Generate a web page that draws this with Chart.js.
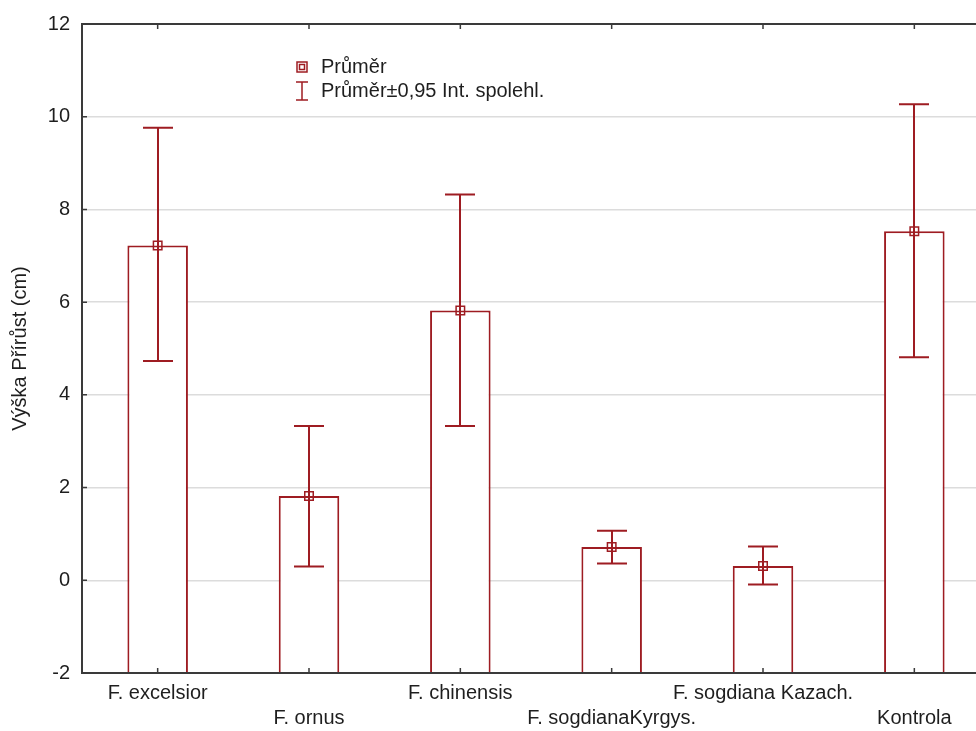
<!DOCTYPE html>
<html>
<head>
<meta charset="utf-8">
<script src="https://cdn.jsdelivr.net/npm/chart.js@4/dist/chart.umd.min.js"></script>
<style>
  html, body { margin: 0; padding: 0; overflow: hidden; background: #fff; }
  #wrap { width: 1000px; height: 731px; }
</style>
</head>
<body>
<div id="wrap"><canvas id="myChart" width="1000" height="731"></canvas></div>
<script>
// species / treatments, staggered over two label rows
const categories = ['F. excelsior', 'F. ornus', 'F. chinensis', 'F. sogdianaKyrgys.', 'F. sogdiana Kazach.', 'Kontrola'];
const labelRow = [0, 1, 0, 1, 0, 1];

// mean height increment and 0.95 confidence limits (cm)
const means = [7.22, 1.82, 5.82, 0.72, 0.31, 7.53];
const upperCI = [9.76, 3.33, 8.32, 1.07, 0.73, 10.27];
const lowerCI = [4.73, 0.30, 3.33, 0.36, -0.09, 4.81];

const yTicks = [-2, 0, 2, 4, 6, 8, 10, 12];

const RED = '#9e1c22';
const AXIS = '#3a3a3a';
const TEXT = '#1e1e1e';
const FONT = "'Liberation Sans', Arial, sans-serif";

// category labels as two-line arrays so every other one drops a row
const labels = categories.map((c, i) => labelRow[i] === 0 ? [c, ''] : ['', c]);

// whiskers drawn right after the bars, under the mean markers
const errorBars = {
  id: 'errorBars',
  afterDatasetDraw(chart, args) {
    if (args.index !== 0) return;
    const ctx = chart.ctx;
    const x = chart.scales.x, y = chart.scales.y;
    ctx.save();
    ctx.strokeStyle = RED;
    ctx.lineWidth = 2;
    for (let i = 0; i < categories.length; i++) {
      const px = Math.round(x.getPixelForValue(i));
      const hi = y.getPixelForValue(upperCI[i]);
      const lo = y.getPixelForValue(lowerCI[i]);
      ctx.beginPath();
      ctx.moveTo(px, hi); ctx.lineTo(px, lo);
      ctx.moveTo(px - 15, hi); ctx.lineTo(px + 15, hi);
      ctx.moveTo(px - 15, lo); ctx.lineTo(px + 15, lo);
      ctx.stroke();
    }
    ctx.restore();
  }
};

// frame with inward tick marks plus the small legend box
const frameAndLegend = {
  id: 'frameAndLegend',
  afterDraw(chart) {
    const ctx = chart.ctx;
    const a = chart.chartArea;
    const x = chart.scales.x, y = chart.scales.y;
    ctx.save();
    ctx.strokeStyle = AXIS;
    ctx.lineWidth = 2;
    ctx.strokeRect(a.left, a.top, a.right - a.left, a.bottom - a.top);
    ctx.lineWidth = 1.5;
    ctx.beginPath();
    yTicks.forEach(v => {
      const py = y.getPixelForValue(v);
      ctx.moveTo(a.left, py); ctx.lineTo(a.left + 5, py);
    });
    for (let i = 0; i < categories.length; i++) {
      const px = x.getPixelForValue(i);
      ctx.moveTo(px, a.bottom); ctx.lineTo(px, a.bottom - 5);
      ctx.moveTo(px, a.top); ctx.lineTo(px, a.top + 5);
    }
    ctx.stroke();

    // legend
    ctx.strokeStyle = RED;
    ctx.lineWidth = 1.5;
    ctx.strokeRect(297, 62, 10, 10);
    ctx.strokeRect(299.5, 64.5, 5, 5);
    ctx.beginPath();
    ctx.moveTo(302, 82); ctx.lineTo(302, 100);
    ctx.moveTo(296, 82); ctx.lineTo(308, 82);
    ctx.moveTo(296, 100); ctx.lineTo(308, 100);
    ctx.stroke();
    ctx.fillStyle = TEXT;
    ctx.font = '20px ' + FONT;
    ctx.textBaseline = 'middle';
    ctx.textAlign = 'left';
    ctx.fillText('Průměr', 321, 67);
    ctx.fillText('Průměr±0,95 Int. spolehl.', 321, 91);
    ctx.restore();
  }
};

const ctx = document.getElementById('myChart').getContext('2d');
const myChart = new Chart(ctx, {
  type: 'bar',
  data: {
    labels: labels,
    datasets: [{
      label: 'Průměr',
      data: means,
      base: -2,
      backgroundColor: '#ffffff',
      borderColor: RED,
      borderWidth: 2,
      borderSkipped: 'bottom',
      categoryPercentage: 1,
      barPercentage: 0.4,
      order: 1
    }, {
      type: 'line',
      label: 'Průměr',
      data: means,
      showLine: false,
      pointStyle: 'rect',
      pointRadius: 6,
      pointBorderWidth: 1.5,
      pointBorderColor: RED,
      pointBackgroundColor: 'rgba(0,0,0,0)',
      order: 0
    }]
  },
  options: {
    responsive: false,
    animation: false,
    layout: { padding: { top: 24, right: 10, left: 0, bottom: 0 } },
    plugins: { legend: { display: false }, tooltip: { enabled: false } },
    scales: {
      x: {
        offset: true,
        grid: { display: false, drawTicks: false },
        border: { display: false },
        ticks: {
          color: TEXT,
          font: { family: FONT, size: 20, lineHeight: 1.25 },
          padding: 8,
          maxRotation: 0,
          autoSkip: false
        },
        afterFit(scale) { scale.height = 58; }
      },
      y: {
        min: -2,
        max: 12,
        afterBuildTicks(scale) { scale.ticks = yTicks.map(v => ({ value: v })); },
        grid: { color: '#dcdcdc', lineWidth: 1.5, drawTicks: false },
        border: { display: false },
        ticks: {
          color: TEXT,
          font: { family: FONT, size: 20 },
          padding: 12
        },
        title: {
          display: true,
          text: 'Výška Přírůst (cm)',
          color: TEXT,
          font: { family: FONT, size: 20, lineHeight: 1.2 },
          padding: { top: 8, bottom: 0 }
        },
        afterFit(scale) { scale.width = 82; }
      }
    }
  },
  plugins: [errorBars, frameAndLegend]
});
</script>
</body>
</html>
